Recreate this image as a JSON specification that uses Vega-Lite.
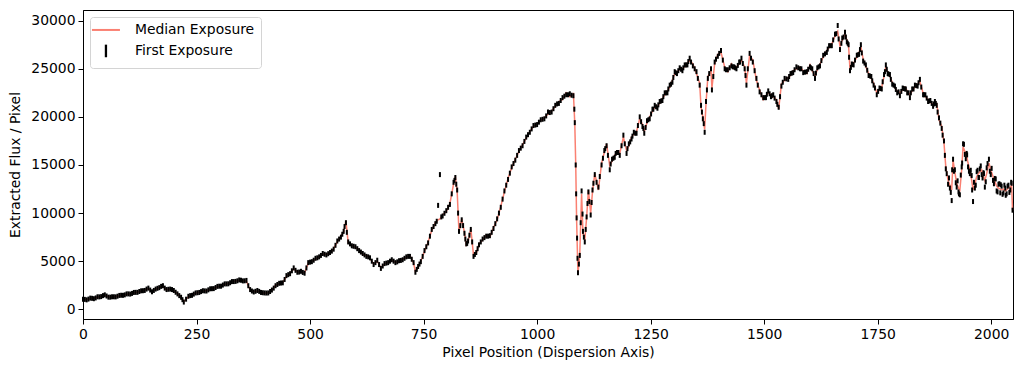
{
  "$schema": "https://vega.github.io/schema/vega-lite/v6.json",
  "autosize": {"type": "none"},
  "width": 930,
  "height": 309,
  "padding": {"left": 83, "top": 10, "right": 10, "bottom": 52},
  "background": "white",
  "config": {
    "font": "DejaVu Sans",
    "view": {"stroke": "black", "strokeWidth": 1},
    "axis": {
      "grid": false,
      "domainColor": "black",
      "tickColor": "black",
      "tickSize": 5,
      "labelFont": "DejaVu Sans",
      "labelFontSize": 13.9,
      "labelColor": "black",
      "labelPadding": 3,
      "titleFont": "DejaVu Sans",
      "titleFontSize": 13.9,
      "titleFontWeight": "normal",
      "titleColor": "black"
    },
    "legend": {
      "labelFont": "DejaVu Sans",
      "labelFontSize": 13.9,
      "labelColor": "black"
    }
  },
  "datasets": {
    "spectrum": [
      {"px":0,"median":1000,"first":1050},{"px":8,"median":1050,"first":980},{"px":16,"median":1100,"first":1160},{"px":24,"median":1140,"first":1100},
      {"px":32,"median":1250,"first":1300},{"px":40,"median":1350,"first":1320},{"px":48,"median":1450,"first":1500},{"px":56,"median":1300,"first":1260},
      {"px":64,"median":1250,"first":1300},{"px":72,"median":1330,"first":1290},{"px":80,"median":1400,"first":1440},{"px":88,"median":1480,"first":1450},
      {"px":96,"median":1550,"first":1600},{"px":104,"median":1620,"first":1580},{"px":112,"median":1700,"first":1750},{"px":120,"median":1800,"first":1760},
      {"px":128,"median":1880,"first":1920},{"px":136,"median":2000,"first":1960},{"px":144,"median":2150,"first":2200},{"px":152,"median":1850,"first":1820},
      {"px":160,"median":2050,"first":2100},{"px":168,"median":2300,"first":2250},{"px":176,"median":2400,"first":2450},{"px":184,"median":2000,"first":2050},
      {"px":192,"median":2150,"first":2100},{"px":200,"median":1900,"first":1950},{"px":208,"median":1650,"first":1600},{"px":216,"median":1200,"first":1250},
      {"px":222,"median":800,"first":750},{"px":232,"median":1300,"first":1350},{"px":240,"median":1500,"first":1450},{"px":248,"median":1650,"first":1700},
      {"px":256,"median":1800,"first":1750},{"px":264,"median":1880,"first":1930},{"px":272,"median":1950,"first":1900},{"px":280,"median":2080,"first":2130},
      {"px":288,"median":2200,"first":2150},{"px":296,"median":2330,"first":2380},{"px":304,"median":2450,"first":2400},{"px":312,"median":2580,"first":2640},
      {"px":320,"median":2700,"first":2650},{"px":328,"median":2820,"first":2880},{"px":336,"median":2950,"first":2900},{"px":344,"median":2980,"first":3050},
      {"px":352,"median":3000,"first":2950},{"px":360,"median":2900,"first":3000},{"px":368,"median":2000,"first":2050},{"px":376,"median":1850,"first":1800},
      {"px":384,"median":1900,"first":1950},{"px":392,"median":1800,"first":1750},{"px":400,"median":1650,"first":1700},{"px":408,"median":1750,"first":1700},
      {"px":416,"median":1950,"first":2000},{"px":424,"median":2500,"first":2450},{"px":432,"median":2650,"first":2700},{"px":440,"median":2800,"first":2750},
      {"px":448,"median":3400,"first":3500},{"px":456,"median":3800,"first":3700},{"px":464,"median":4200,"first":4300},{"px":472,"median":3900,"first":3850},
      {"px":480,"median":3850,"first":3950},{"px":488,"median":3800,"first":3750},{"px":496,"median":4800,"first":4850},{"px":504,"median":5000,"first":4950},
      {"px":512,"median":5200,"first":5300},{"px":520,"median":5500,"first":5450},{"px":528,"median":5700,"first":5800},{"px":536,"median":5750,"first":5650},
      {"px":544,"median":5800,"first":5900},{"px":552,"median":6300,"first":6250},{"px":560,"median":7000,"first":7100},{"px":568,"median":7600,"first":7500},
      {"px":574,"median":8000,"first":8100},{"px":579,"median":9200,"first":9000},{"px":584,"median":6900,"first":7000},{"px":592,"median":6700,"first":6600},
      {"px":600,"median":6400,"first":6500},{"px":608,"median":6200,"first":6100},{"px":616,"median":5700,"first":5800},{"px":624,"median":5600,"first":5500},
      {"px":632,"median":5300,"first":5350},{"px":640,"median":4700,"first":4650},{"px":648,"median":5000,"first":5100},{"px":656,"median":4300,"first":4250},
      {"px":664,"median":4700,"first":4750},{"px":672,"median":4900,"first":4850},{"px":680,"median":5100,"first":5150},{"px":688,"median":4900,"first":4850},
      {"px":696,"median":4950,"first":5050},{"px":704,"median":5200,"first":5150},{"px":712,"median":5400,"first":5450},{"px":720,"median":5600,"first":5500},
      {"px":728,"median":4800,"first":4850},{"px":732,"median":3900,"first":3850},{"px":738,"median":4400,"first":4450},{"px":744,"median":5000,"first":4950},
      {"px":752,"median":6000,"first":6100},{"px":760,"median":7000,"first":6900},{"px":768,"median":8200,"first":8300},{"px":776,"median":9000,"first":8900},
      {"px":782,"median":9300,"first":10800},{"px":786,"median":9400,"first":14000},{"px":792,"median":9800,"first":9700},{"px":800,"median":10150,"first":10250},
      {"px":808,"median":11000,"first":10900},{"px":816,"median":13000,"first":13200},{"px":820,"median":13800,"first":13700},{"px":824,"median":12200,"first":12400},
      {"px":828,"median":8000,"first":8100},{"px":834,"median":9400,"first":9300},{"px":840,"median":8000,"first":7900},{"px":844,"median":6700,"first":6800},
      {"px":848,"median":7000,"first":7100},{"px":854,"median":8400,"first":8300},{"px":860,"median":5600,"first":5500},{"px":866,"median":5800,"first":5900},
      {"px":872,"median":6800,"first":6700},{"px":880,"median":7200,"first":7300},{"px":888,"median":7700,"first":7600},{"px":896,"median":7500,"first":7650},
      {"px":904,"median":8500,"first":8400},{"px":912,"median":9300,"first":9400},{"px":920,"median":10700,"first":10600},{"px":928,"median":12200,"first":12300},
      {"px":936,"median":13600,"first":13500},{"px":944,"median":14700,"first":14800},{"px":952,"median":15600,"first":15500},{"px":960,"median":16400,"first":16500},
      {"px":968,"median":17100,"first":17000},{"px":976,"median":17800,"first":17900},{"px":984,"median":18500,"first":18400},{"px":992,"median":19000,"first":19100},
      {"px":1000,"median":19300,"first":19200},{"px":1008,"median":19600,"first":19700},{"px":1016,"median":19900,"first":19800},{"px":1024,"median":20300,"first":20500},
      {"px":1032,"median":20600,"first":20500},{"px":1040,"median":21100,"first":21200},{"px":1048,"median":21600,"first":21400},{"px":1056,"median":21800,"first":22000},
      {"px":1064,"median":22500,"first":22300},{"px":1072,"median":22100,"first":22400},{"px":1080,"median":22400,"first":22200},{"px":1083,"median":19300,"first":19400},
      {"px":1085,"median":15200,"first":15000},{"px":1087,"median":9300,"first":9500},{"px":1089,"median":5500,"first":5300},{"px":1090,"median":3700,"first":3800},
      {"px":1094,"median":5800,"first":5600},{"px":1098,"median":12000,"first":12300},{"px":1101,"median":7900,"first":8100},{"px":1105,"median":7200,"first":7000},
      {"px":1109,"median":9500,"first":9600},{"px":1113,"median":12400,"first":12200},{"px":1118,"median":10000,"first":9800},{"px":1122,"median":12200,"first":12400},
      {"px":1127,"median":14100,"first":14000},{"px":1135,"median":12400,"first":12700},{"px":1142,"median":15200,"first":15000},{"px":1148,"median":16300,"first":16500},
      {"px":1153,"median":17200,"first":17000},{"px":1160,"median":14900,"first":14500},{"px":1165,"median":15400,"first":15600},{"px":1171,"median":16000,"first":15800},
      {"px":1176,"median":16400,"first":16300},{"px":1182,"median":16200,"first":16000},{"px":1190,"median":17900,"first":18100},{"px":1197,"median":16500,"first":16200},
      {"px":1202,"median":17000,"first":17200},{"px":1208,"median":17900,"first":17700},{"px":1213,"median":18200,"first":18400},{"px":1219,"median":18500,"first":18300},
      {"px":1226,"median":19800,"first":20000},{"px":1232,"median":19200,"first":19000},{"px":1236,"median":18500,"first":18300},{"px":1242,"median":19400,"first":19600},
      {"px":1248,"median":20000,"first":19800},{"px":1254,"median":20600,"first":20800},{"px":1259,"median":21000,"first":21200},{"px":1265,"median":21100,"first":20900},
      {"px":1270,"median":21400,"first":21600},{"px":1276,"median":21900,"first":21700},{"px":1281,"median":22300,"first":22500},{"px":1287,"median":22700,"first":22500},
      {"px":1292,"median":23100,"first":23300},{"px":1298,"median":23800,"first":23600},{"px":1303,"median":24500,"first":24700},{"px":1308,"median":24700,"first":24500},
      {"px":1314,"median":24900,"first":25100},{"px":1320,"median":25000,"first":24800},{"px":1325,"median":25200,"first":25400},{"px":1331,"median":25600,"first":25400},
      {"px":1336,"median":25900,"first":26100},{"px":1343,"median":25500,"first":25300},{"px":1351,"median":24500,"first":24700},{"px":1358,"median":23500,"first":23300},
      {"px":1361,"median":21000,"first":21200},{"px":1365,"median":20000,"first":19800},{"px":1369,"median":18700,"first":18400},{"px":1372,"median":21400,"first":21600},
      {"px":1376,"median":24200,"first":24000},{"px":1383,"median":24800,"first":25000},{"px":1385,"median":23000,"first":22800},{"px":1391,"median":25500,"first":25700},
      {"px":1398,"median":26500,"first":26300},{"px":1405,"median":26700,"first":26900},{"px":1413,"median":25200,"first":25000},{"px":1420,"median":24700,"first":24900},
      {"px":1428,"median":25500,"first":25300},{"px":1434,"median":25000,"first":25200},{"px":1439,"median":25200,"first":25000},{"px":1445,"median":25500,"first":25700},
      {"px":1450,"median":25900,"first":26100},{"px":1457,"median":25200,"first":25000},{"px":1461,"median":23500,"first":23300},{"px":1468,"median":26400,"first":26600},
      {"px":1475,"median":25900,"first":25700},{"px":1483,"median":23800,"first":24000},{"px":1490,"median":22800,"first":22600},{"px":1498,"median":21800,"first":22000},
      {"px":1504,"median":22200,"first":22000},{"px":1509,"median":22500,"first":22700},{"px":1515,"median":22300,"first":22100},{"px":1520,"median":22100,"first":22300},
      {"px":1527,"median":21800,"first":21600},{"px":1532,"median":20800,"first":21000},{"px":1538,"median":23400,"first":23200},{"px":1545,"median":23800,"first":24000},
      {"px":1553,"median":24100,"first":23900},{"px":1558,"median":24300,"first":24500},{"px":1564,"median":24800,"first":24600},{"px":1571,"median":25000,"first":25200},
      {"px":1579,"median":25200,"first":25000},{"px":1586,"median":24800,"first":24600},{"px":1594,"median":24500,"first":24700},{"px":1601,"median":25400,"first":25200},
      {"px":1606,"median":24800,"first":25000},{"px":1612,"median":24200,"first":24000},{"px":1617,"median":24900,"first":25100},{"px":1623,"median":25500,"first":25300},
      {"px":1630,"median":26200,"first":26400},{"px":1638,"median":26900,"first":26700},{"px":1643,"median":27200,"first":27400},{"px":1649,"median":27600,"first":27400},
      {"px":1656,"median":28400,"first":28600},{"px":1662,"median":28900,"first":29500},{"px":1667,"median":27300,"first":27000},{"px":1672,"median":28000,"first":28200},
      {"px":1678,"median":28600,"first":28800},{"px":1682,"median":28000,"first":27800},{"px":1686,"median":27300,"first":27500},{"px":1689,"median":25000,"first":24800},
      {"px":1693,"median":25300,"first":25500},{"px":1697,"median":25600,"first":25400},{"px":1704,"median":26200,"first":26400},{"px":1709,"median":26700,"first":26500},
      {"px":1713,"median":27300,"first":27500},{"px":1718,"median":26000,"first":25800},{"px":1724,"median":25200,"first":25400},{"px":1730,"median":24500,"first":24300},
      {"px":1736,"median":24000,"first":24200},{"px":1741,"median":23500,"first":23300},{"px":1748,"median":22500,"first":22300},{"px":1754,"median":22800,"first":23000},
      {"px":1759,"median":23100,"first":22900},{"px":1764,"median":24200,"first":24400},{"px":1768,"median":25200,"first":25400},{"px":1772,"median":24700,"first":24500},
      {"px":1777,"median":24200,"first":24400},{"px":1782,"median":23600,"first":23400},{"px":1788,"median":23000,"first":23200},{"px":1793,"median":22700,"first":22500},
      {"px":1799,"median":22500,"first":22200},{"px":1805,"median":22800,"first":23000},{"px":1810,"median":23100,"first":22900},{"px":1815,"median":22700,"first":22500},
      {"px":1821,"median":22300,"first":22000},{"px":1826,"median":22700,"first":22900},{"px":1832,"median":23100,"first":23300},{"px":1838,"median":23400,"first":23200},
      {"px":1843,"median":23700,"first":23900},{"px":1850,"median":22500,"first":22300},{"px":1855,"median":22100,"first":22300},{"px":1861,"median":21800,"first":21600},
      {"px":1866,"median":21500,"first":21700},{"px":1872,"median":21300,"first":21100},{"px":1876,"median":21400,"first":21600},{"px":1880,"median":21400,"first":21200},
      {"px":1885,"median":19700,"first":19900},{"px":1891,"median":19000,"first":18800},{"px":1896,"median":17300,"first":17500},{"px":1900,"median":14800,"first":14600},
      {"px":1905,"median":13400,"first":13000},{"px":1909,"median":12900,"first":12600},{"px":1913,"median":12400,"first":11300},{"px":1916,"median":15500,"first":15600},
      {"px":1920,"median":14200,"first":14500},{"px":1924,"median":13100,"first":12700},{"px":1928,"median":12600,"first":12200},{"px":1931,"median":12400,"first":11900},
      {"px":1935,"median":14500,"first":14800},{"px":1938,"median":16900,"first":17200},{"px":1942,"median":16400,"first":16100},{"px":1946,"median":15900,"first":16200},
      {"px":1949,"median":15200,"first":14800},{"px":1953,"median":14500,"first":14100},{"px":1957,"median":13400,"first":13900},{"px":1960,"median":12400,"first":11200},
      {"px":1964,"median":13000,"first":12600},{"px":1968,"median":13800,"first":14300},{"px":1972,"median":14100,"first":13700},{"px":1975,"median":14300,"first":14600},
      {"px":1979,"median":14500,"first":14000},{"px":1983,"median":13800,"first":14200},{"px":1986,"median":13400,"first":12700},{"px":1990,"median":14100,"first":14700},
      {"px":1995,"median":15200,"first":15600},{"px":1999,"median":14500,"first":14000},{"px":2004,"median":13800,"first":13400},{"px":2008,"median":13300,"first":13600},
      {"px":2012,"median":12800,"first":12300},{"px":2016,"median":12600,"first":13000},{"px":2020,"median":12500,"first":12100},{"px":2023,"median":12400,"first":12800},
      {"px":2027,"median":12500,"first":12100},{"px":2031,"median":12300,"first":12600},{"px":2034,"median":12400,"first":12000},{"px":2038,"median":12600,"first":12900},
      {"px":2042,"median":12700,"first":12400},{"px":2045,"median":12900,"first":13100},{"px":2047,"median":10300,"first":10300}
    ],
    "firstExtra": [
      {"px":4,"first":1030},{"px":12,"first":1060},{"px":20,"first":1140},{"px":28,"first":1180},{"px":36,"first":1290},{"px":44,"first":1420},{"px":52,"first":1380},{"px":60,"first":1260},
      {"px":68,"first":1300},{"px":76,"first":1360},{"px":84,"first":1460},{"px":92,"first":1500},{"px":100,"first":1600},{"px":108,"first":1650},{"px":116,"first":1760},{"px":124,"first":1850},
      {"px":132,"first":1930},{"px":140,"first":2100},{"px":148,"first":2000},{"px":156,"first":1960},{"px":164,"first":2180},{"px":172,"first":2380},{"px":180,"first":2200},{"px":188,"first":2080},
      {"px":196,"first":2050},{"px":204,"first":1770},{"px":212,"first":1420},{"px":219,"first":1000},{"px":227,"first":1050},{"px":236,"first":1420},{"px":244,"first":1580},{"px":252,"first":1720},
      {"px":260,"first":1840},{"px":268,"first":1910},{"px":276,"first":2020},{"px":284,"first":2140},{"px":292,"first":2260},{"px":300,"first":2400},{"px":308,"first":2520},{"px":316,"first":2640},
      {"px":324,"first":2760},{"px":332,"first":2880},{"px":340,"first":2960},{"px":348,"first":3020},{"px":356,"first":2960},{"px":364,"first":2450},{"px":372,"first":1900},{"px":380,"first":1870},
      {"px":388,"first":1860},{"px":396,"first":1720},{"px":404,"first":1690},{"px":412,"first":1850},{"px":420,"first":2200},{"px":428,"first":2580},{"px":436,"first":2730},{"px":444,"first":3100},
      {"px":452,"first":3600},{"px":460,"first":4000},{"px":468,"first":4050},{"px":476,"first":3870},{"px":484,"first":3830},{"px":492,"first":4300},{"px":500,"first":4900},{"px":508,"first":5100},
      {"px":516,"first":5350},{"px":524,"first":5600},{"px":532,"first":5720},{"px":540,"first":5780},{"px":548,"first":6050},{"px":556,"first":6650},{"px":564,"first":7300},{"px":571,"first":7800},
      {"px":576,"first":8600},{"px":581,"first":8000},{"px":588,"first":6800},{"px":596,"first":6550},{"px":604,"first":6300},{"px":612,"first":5950},{"px":620,"first":5650},{"px":628,"first":5450},
      {"px":636,"first":5000},{"px":644,"first":4850},{"px":652,"first":4650},{"px":660,"first":4500},{"px":668,"first":4800},{"px":676,"first":5000},{"px":684,"first":5000},{"px":692,"first":4930},
      {"px":700,"first":5080},{"px":708,"first":5300},{"px":716,"first":5500},{"px":724,"first":5200},{"px":735,"first":4150},{"px":741,"first":4700},{"px":748,"first":5500},{"px":756,"first":6500},
      {"px":764,"first":7600},{"px":772,"first":8600},{"px":779,"first":9150},{"px":789,"first":9600},{"px":796,"first":9980},{"px":804,"first":10600},{"px":812,"first":12000},{"px":818,"first":13400},
      {"px":822,"first":13000},{"px":826,"first":10000},{"px":831,"first":8700},{"px":837,"first":8700},{"px":842,"first":7300},{"px":846,"first":6850},{"px":851,"first":7700},{"px":857,"first":7000},
      {"px":863,"first":5700},{"px":869,"first":6300},{"px":876,"first":7000},{"px":884,"first":7450},{"px":892,"first":7600},{"px":900,"first":8000},{"px":908,"first":8900},{"px":916,"first":10000},
      {"px":924,"first":11450},{"px":932,"first":12900},{"px":940,"first":14150},{"px":948,"first":15150},{"px":956,"first":16000},{"px":964,"first":16750},{"px":972,"first":17450},{"px":980,"first":18150},
      {"px":988,"first":18750},{"px":996,"first":19150},{"px":1004,"first":19450},{"px":1012,"first":19750},{"px":1020,"first":20100},{"px":1028,"first":20450},{"px":1036,"first":20850},{"px":1044,"first":21350},
      {"px":1052,"first":21700},{"px":1060,"first":22150},{"px":1068,"first":22300},{"px":1076,"first":22250},{"px":1082,"first":20800},{"px":1086,"first":12000},{"px":1088,"first":7400},{"px":1092,"first":4700},
      {"px":1096,"first":9000},{"px":1100,"first":9900},{"px":1103,"first":7500},{"px":1107,"first":8300},{"px":1111,"first":11000},{"px":1115,"first":11200},{"px":1120,"first":11100},{"px":1124,"first":13100},
      {"px":1131,"first":13200},{"px":1138,"first":13800},{"px":1145,"first":15700},{"px":1150,"first":16700},{"px":1156,"first":16000},{"px":1162,"first":15100},{"px":1168,"first":15700},{"px":1173,"first":16200},
      {"px":1179,"first":16300},{"px":1186,"first":17000},{"px":1193,"first":17200},{"px":1199,"first":16700},{"px":1205,"first":17400},{"px":1210,"first":18000},{"px":1216,"first":18300},{"px":1222,"first":19100},
      {"px":1229,"first":19500},{"px":1234,"first":18800},{"px":1239,"first":18900},{"px":1245,"first":19700},{"px":1251,"first":20300},{"px":1256,"first":20800},{"px":1262,"first":21050},{"px":1267,"first":21250},
      {"px":1273,"first":21650},{"px":1278,"first":22100},{"px":1284,"first":22500},{"px":1289,"first":22900},{"px":1295,"first":23400},{"px":1300,"first":24100},{"px":1305,"first":24600},{"px":1311,"first":24800},
      {"px":1317,"first":24950},{"px":1322,"first":25100},{"px":1328,"first":25400},{"px":1333,"first":25750},{"px":1339,"first":25700},{"px":1347,"first":25000},{"px":1354,"first":24000},{"px":1363,"first":20500},
      {"px":1367,"first":19300},{"px":1374,"first":22800},{"px":1379,"first":24500},{"px":1388,"first":24200},{"px":1394,"first":26000},{"px":1401,"first":26600},{"px":1409,"first":25900},{"px":1416,"first":24900},
      {"px":1424,"first":25100},{"px":1431,"first":25200},{"px":1436,"first":25100},{"px":1442,"first":25350},{"px":1447,"first":25700},{"px":1453,"first":25550},{"px":1459,"first":24300},{"px":1464,"first":25000},
      {"px":1471,"first":26100},{"px":1479,"first":24800},{"px":1486,"first":23300},{"px":1494,"first":22300},{"px":1501,"first":22000},{"px":1506,"first":22350},{"px":1512,"first":22400},{"px":1517,"first":22200},
      {"px":1523,"first":21950},{"px":1529,"first":21300},{"px":1535,"first":22100},{"px":1541,"first":23600},{"px":1549,"first":23950},{"px":1555,"first":24200},{"px":1561,"first":24550},{"px":1567,"first":24900},
      {"px":1575,"first":25100},{"px":1582,"first":25000},{"px":1590,"first":24650},{"px":1597,"first":24950},{"px":1603,"first":25100},{"px":1609,"first":24500},{"px":1614,"first":24550},{"px":1620,"first":25200},
      {"px":1626,"first":25850},{"px":1634,"first":26550},{"px":1640,"first":27050},{"px":1646,"first":27400},{"px":1652,"first":28000},{"px":1659,"first":28650},{"px":1664,"first":28100},{"px":1670,"first":27650},
      {"px":1675,"first":28300},{"px":1680,"first":28300},{"px":1684,"first":27650},{"px":1687,"first":26200},{"px":1691,"first":25150},{"px":1695,"first":25450},{"px":1700,"first":25900},{"px":1706,"first":26450},
      {"px":1711,"first":27000},{"px":1715,"first":26650},{"px":1721,"first":25600},{"px":1727,"first":24850},{"px":1733,"first":24250},{"px":1738,"first":23750},{"px":1744,"first":23000},{"px":1751,"first":22650},
      {"px":1756,"first":22950},{"px":1761,"first":23650},{"px":1766,"first":24700},{"px":1770,"first":24950},{"px":1774,"first":24450},{"px":1779,"first":23900},{"px":1785,"first":23300},{"px":1790,"first":22850},
      {"px":1796,"first":22600},{"px":1802,"first":22650},{"px":1807,"first":22950},{"px":1812,"first":22900},{"px":1818,"first":22500},{"px":1823,"first":22500},{"px":1829,"first":22900},{"px":1835,"first":23250},
      {"px":1840,"first":23550},{"px":1846,"first":23100},{"px":1852,"first":22300},{"px":1858,"first":21950},{"px":1863,"first":21650},{"px":1869,"first":21400},{"px":1874,"first":21350},{"px":1878,"first":21400},
      {"px":1882,"first":20500},{"px":1888,"first":19350},{"px":1893,"first":18100},{"px":1898,"first":16000},{"px":1902,"first":14100},{"px":1907,"first":13650},{"px":1911,"first":12150},{"px":1914,"first":14500},
      {"px":1918,"first":14350},{"px":1922,"first":13150},{"px":1926,"first":13350},{"px":1929,"first":12000},{"px":1933,"first":13950},{"px":1936,"first":15200},{"px":1940,"first":17150},{"px":1944,"first":15650},
      {"px":1947,"first":16050},{"px":1951,"first":14350},{"px":1955,"first":14450},{"px":1958,"first":12400},{"px":1962,"first":13200},{"px":1966,"first":12900},{"px":1970,"first":14450},{"px":1973,"first":13700},
      {"px":1977,"first":14900},{"px":1981,"first":13650},{"px":1984,"first":14100},{"px":1988,"first":13250},{"px":1992,"first":15150},{"px":1997,"first":14350},{"px":2001,"first":14650},{"px":2006,"first":13050},
      {"px":2010,"first":13550},{"px":2014,"first":12200},{"px":2018,"first":13050},{"px":2021,"first":12950},{"px":2025,"first":11950},{"px":2029,"first":12900},{"px":2032,"first":11850},{"px":2036,"first":12800},
      {"px":2040,"first":12150},{"px":2044,"first":13200}
    ]
  },
  "data": {"name": "spectrum"},
  "encoding": {
    "x": {
      "field": "px",
      "type": "quantitative",
      "scale": {"domain": [0, 2048], "nice": false, "zero": false},
      "axis": {"title": "Pixel Position (Dispersion Axis)", "values": [0, 250, 500, 750, 1000, 1250, 1500, 1750, 2000], "format": "d", "labelFlush": false, "titlePadding": 5}
    }
  },
  "layer": [
    {
      "mark": {"type": "line", "strokeWidth": 1.5, "interpolate": "linear"},
      "encoding": {
        "y": {
          "field": "median",
          "type": "quantitative",
          "scale": {"domain": [-1010, 31110], "nice": false, "zero": false},
          "axis": {"title": "Extracted Flux / Pixel", "values": [0, 5000, 10000, 15000, 20000, 25000, 30000], "format": "d", "titlePadding": 8}
        },
        "color": {
          "datum": "Median Exposure",
          "type": "nominal",
          "scale": {"domain": ["Median Exposure", "First Exposure"], "range": ["#FA8072", "black"]},
          "legend": {
            "title": null,
            "orient": "top-left",
            "offset": 7,
            "padding": 6,
            "fillColor": "white",
            "strokeColor": "#d4d4d4",
            "cornerRadius": 3,
            "symbolType": "stroke",
            "symbolSize": 784,
            "symbolStrokeWidth": 2,
            "symbolOffset": 3,
            "labelOffset": 22,
            "rowPadding": 3,
            "encode": {
              "symbols": {
                "update": {
                  "shape": {"signal": "datum.value === 'First Exposure' ? 'M0,-0.45L0,0.45' : 'stroke'"},
                  "stroke": {"signal": "datum.value === 'First Exposure' ? 'black' : '#FA8072'"},
                  "strokeWidth": {"signal": "datum.value === 'First Exposure' ? 2.3 : 2"},
                  "fill": {"value": "transparent"},
                  "opacity": {"value": 1}
                }
              }
            }
          }
        }
      }
    },
    {
      "mark": {"type": "tick", "orient": "vertical", "size": 5, "thickness": 2, "opacity": 1},
      "encoding": {
        "y": {"field": "first", "type": "quantitative"},
        "color": {"datum": "First Exposure", "type": "nominal"}
      }
    },
    {
      "data": {"name": "firstExtra"},
      "mark": {"type": "tick", "orient": "vertical", "size": 5, "thickness": 2, "opacity": 1},
      "encoding": {
        "y": {"field": "first", "type": "quantitative"},
        "color": {"datum": "First Exposure", "type": "nominal"}
      }
    }
  ]
}
